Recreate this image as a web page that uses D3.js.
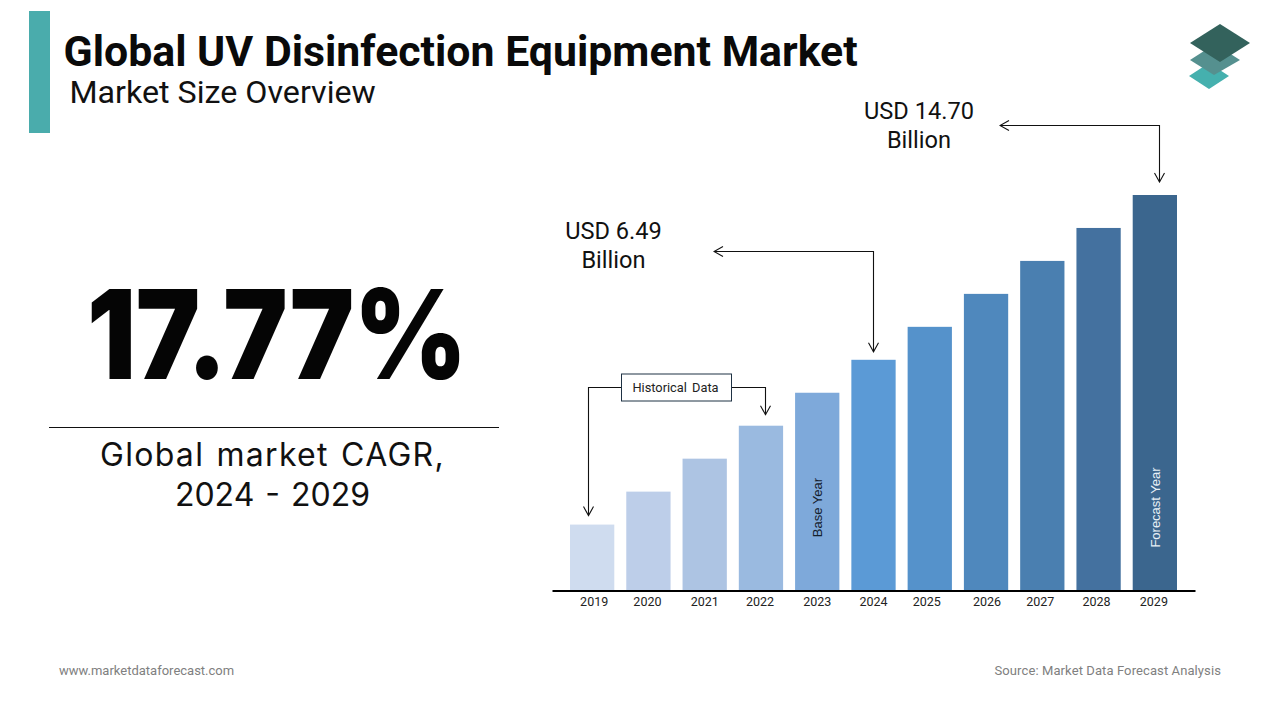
<!DOCTYPE html>
<html>
<head>
<meta charset="utf-8">
<script src="https://cdn.jsdelivr.net/npm/d3@7"></script>
<style>
  html, body { margin: 0; padding: 0; background: #fff; }
  text { font-family: Roboto, sans-serif; }
</style>
</head>
<body>
<div id="container"></div>
<script>
/* DATA */
const years = ["2019", "2020", "2021", "2022", "2023", "2024", "2025", "2026", "2027", "2028", "2029"];
// the picture's bars are an even staircase, not drawn to the USD figures, so these are height steps
const barLevels = [2, 3, 4, 5, 6, 7, 8, 9, 10, 11, 12];
const barColors = ["#cfdcef", "#bdcee9", "#adc4e3", "#9abae0", "#7ea9da", "#5b9ad6",
                   "#5592cb", "#4f88bd", "#4a7fb0", "#44719f", "#3b668e"];
const tickShift = [2, -1, 0, -1, 0, 0, -3, 1, -2, -2, -1];

const title = "Global UV Disinfection Equipment Market";
const subtitle = "Market Size Overview";
const cagr = "17.77%";
const cagrLabel = ["Global market CAGR,", "2024 - 2029"];
const label2024 = ["USD 6.49", "Billion"];
const label2029 = ["USD 14.70", "Billion"];

/* CONSTANTS */
const width = 1280,
      height = 720,
      baseline = 590.5;

const svg = d3.select("#container")
  .append("svg")
  .attr("width", width)
  .attr("height", height)
  .style("display", "block");

svg.append("defs").append("marker")
  .attr("id", "chevron")
  .attr("viewBox", "-10 -6 11 12")
  .attr("refX", 0)
  .attr("refY", 0)
  .attr("markerWidth", 11)
  .attr("markerHeight", 12)
  .attr("markerUnits", "userSpaceOnUse")
  .attr("orient", "auto-start-reverse")
  .append("path")
  .attr("d", "M-9,-5 L0,0 L-9,5")
  .attr("fill", "none")
  .attr("stroke", "#111")
  .attr("stroke-width", 1.1);

/* HEADER */
svg.append("rect")
  .attr("x", 29).attr("y", 11)
  .attr("width", 21).attr("height", 122)
  .attr("fill", "#4aacac");

svg.append("text")
  .attr("x", 63.5).attr("y", 66)
  .attr("font-size", 42.8)
  .attr("font-weight", 700)
  .attr("fill", "#0a0a0a")
  .text(title);

svg.append("text")
  .attr("x", 69.5).attr("y", 103)
  .attr("font-size", 32.2)
  .attr("fill", "#111")
  .text(subtitle);

// logo, three stacked plates
const plates = [
  { pts: [[1189, 76], [1209, 63], [1229, 76], [1209, 89]], fill: "#45b0ae" },
  { pts: [[1190, 60], [1215, 44], [1240, 60], [1214, 75]], fill: "#55908f" },
  { pts: [[1190, 43], [1220, 24], [1250, 43], [1220, 62]], fill: "#33625c" }
];
svg.append("g").selectAll("polygon").data(plates).enter()
  .append("polygon")
  .attr("points", d => d.pts.join(" "))
  .attr("fill", d => d.fill);

/* LEFT PANEL */
// Inter runs wider than the original face, so squeeze it sideways
svg.append("text")
  .attr("transform", "translate(277,379) scale(0.873,1)")
  .attr("text-anchor", "middle")
  .style("font-family", "Inter, sans-serif")
  .attr("font-size", 124)
  .attr("font-weight", 900)
  .attr("fill", "#050505")
  .text(cagr);

svg.append("line")
  .attr("x1", 49).attr("x2", 499)
  .attr("y1", 427.5).attr("y2", 427.5)
  .attr("stroke", "#111");

svg.append("g").selectAll("text").data(cagrLabel).enter()
  .append("text")
  .attr("x", 272.5)
  .attr("y", (d, i) => 466 + i * 40)
  .attr("text-anchor", "middle")
  .style("font-family", "Inter, sans-serif")
  .attr("font-size", 32)
  .attr("word-spacing", 2)
  .attr("letter-spacing", (d, i) => i === 0 ? 1.3 : 0)
  .attr("fill", "#111")
  .text(d => d);

/* SCALES */
const xScale = d3.scaleBand()
  .domain(years)
  .range([552, 1195])
  .paddingInner(0.213)
  .paddingOuter(0.32);

const yScale = d3.scaleLinear()
  .domain([0, d3.max(barLevels)])
  .range([baseline, 195]);

/* BARS */
svg.append("g").selectAll("rect").data(years).enter()
  .append("rect")
  .attr("x", d => xScale(d))
  .attr("y", (d, i) => yScale(barLevels[i]))
  .attr("width", xScale.bandwidth())
  .attr("height", (d, i) => baseline - yScale(barLevels[i]))
  .attr("fill", (d, i) => barColors[i]);

/* AXIS */
const xAxis = d3.axisBottom(xScale).tickSize(0).tickPadding(7);
const axisG = svg.append("g")
  .attr("transform", "translate(0," + baseline + ")")
  .call(xAxis);
axisG.select(".domain").attr("stroke", "#000").attr("stroke-width", 2);
axisG.selectAll("text")
  .attr("dx", (d, i) => tickShift[i])
  .style("font-family", "Roboto, sans-serif")
  .attr("font-size", 12.5)
  .attr("fill", "#222");

/* BAR NOTES */
function barNote(year, text, color, mid) {
  svg.append("text")
    .attr("transform", "translate(" + (xScale(year) + xScale.bandwidth() / 2 + 5) + "," + mid + ") rotate(-90)")
    .attr("text-anchor", "middle")
    .style("font-family", "'Liberation Sans', sans-serif")
    .attr("font-size", 13)
    .attr("fill", color)
    .text(text);
}
barNote("2023", "Base Year", "#14202c", 507.5);
barNote("2029", "Forecast Year", "#e8f0f6", 507.5);

/* ANNOTATIONS */
const arrowLine = d3.line();
function arrow(pts, both) {
  svg.append("path")
    .attr("d", arrowLine(pts))
    .attr("fill", "none")
    .attr("stroke", "#111")
    .attr("stroke-width", 1.1)
    .attr("marker-end", "url(#chevron)")
    .attr("marker-start", both ? "url(#chevron)" : null);
}
arrow([[1000, 125.5], [1159.5, 125.5], [1159.5, yScale(12) - 13]], true);
arrow([[714, 251.5], [873.5, 251.5], [873.5, yScale(7) - 8]], true);
arrow([[621, 387.5], [588.5, 387.5], [588.5, yScale(2) - 9]], false);
arrow([[731, 387.5], [765.5, 387.5], [765.5, yScale(5) - 11]], false);

svg.append("rect")
  .attr("x", 621.5).attr("y", 374)
  .attr("width", 110).attr("height", 27)
  .attr("fill", "#fff")
  .attr("stroke", "#1f3244");

svg.append("text")
  .attr("x", 675.5).attr("y", 392)
  .attr("text-anchor", "middle")
  .attr("font-size", 12.8)
  .attr("fill", "#222")
  .attr("word-spacing", 2)
  .text("Historical Data");

function usdLabel(lines, x, y) {
  svg.append("g").selectAll("text").data(lines).enter()
    .append("text")
    .attr("x", x)
    .attr("y", (d, i) => y + i * 29)
    .attr("text-anchor", "middle")
    .attr("font-size", 23.6)
    .attr("fill", "#111")
    .text(d => d);
}
usdLabel(label2029, 919, 119);
usdLabel(label2024, 613.5, 239);

/* FOOTER */
svg.append("text")
  .attr("x", 59).attr("y", 675)
  .attr("font-size", 13)
  .attr("fill", "#808080")
  .text("www.marketdataforecast.com");

svg.append("text")
  .attr("x", 1221).attr("y", 675)
  .attr("text-anchor", "end")
  .attr("font-size", 13)
  .attr("letter-spacing", 0.1)
  .attr("fill", "#808080")
  .text("Source: Market Data Forecast Analysis");
</script>
</body>
</html>
